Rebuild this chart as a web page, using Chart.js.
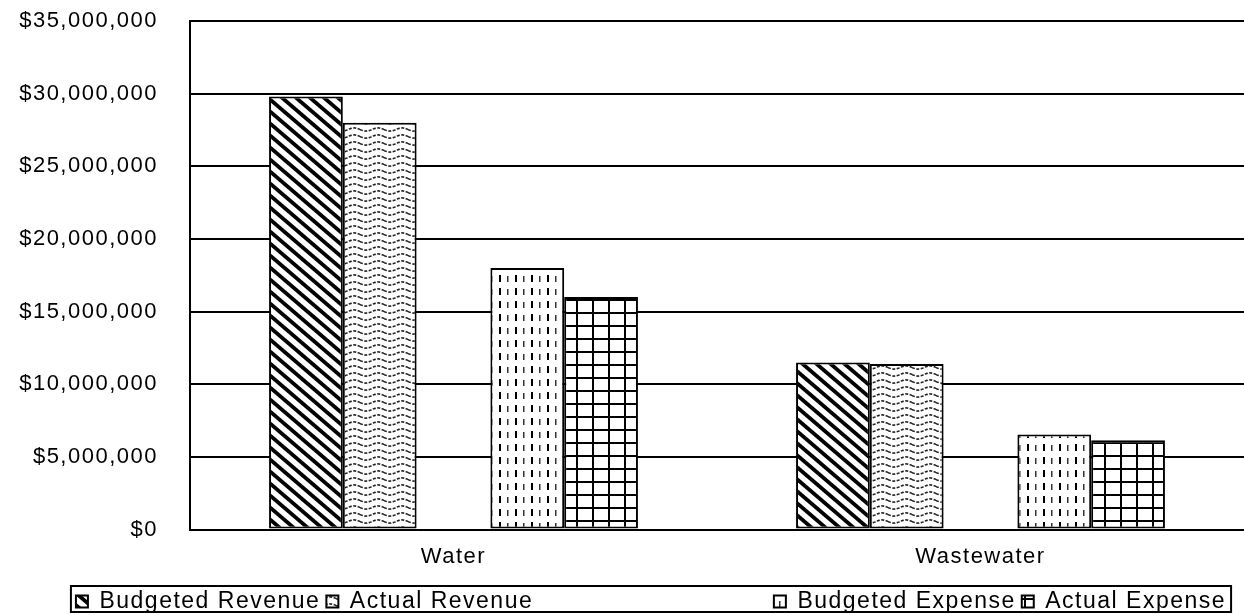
<!DOCTYPE html>
<html>
<head>
<meta charset="utf-8">
<script src="https://cdn.jsdelivr.net/npm/chart.js@4/dist/chart.umd.min.js"></script>
<style>
  html, body { margin: 0; padding: 0; background: #fff; }
  #wrap { width: 1244px; height: 615px; }
</style>
</head>
<body>
<div id="wrap"><canvas id="c" width="1244" height="615"></canvas></div>
<script>
// data
const categories = ['Water', 'Wastewater'];
const budgetedRevenue = [29800000, 11500000];
const actualRevenue = [28000000, 11400000];
const spacer = [null, null];
const budgetedExpense = [18000000, 6550000];
const actualExpense = [16000000, 6150000];
const yMax = 35000000;
const yStep = 5000000;

function makeTile(w, h, draw) {
    var cv = document.createElement('canvas');
    cv.width = w; cv.height = h;
    var g = cv.getContext('2d');
    g.fillStyle = '#fff';
    g.fillRect(0, 0, w, h);
    draw(g, w, h);
    return document.getElementById('c').getContext('2d').createPattern(cv, 'repeat');
}

// black diagonal stripes "\"
var diagPattern = makeTile(14, 12, function (g, w, h) {
    g.strokeStyle = '#000';
    g.lineWidth = 3.8;
    [[0, 0], [0, h], [0, -h]].forEach(function (o) {
        g.beginPath();
        g.moveTo(o[0] - w, o[1] - h);
        g.lineTo(o[0] + 2 * w, o[1] + 2 * h);
        g.stroke();
    });
});

// grey wavy rows
var wavePattern = makeTile(24, 7, function (g, w, h) {
    g.strokeStyle = '#222';
    g.lineWidth = 1.6;
    g.setLineDash([3, 1.5]);
    g.beginPath();
    for (var x = 0; x <= w; x++) {
        var y = 3.5 + 1.6 * Math.sin(x / w * Math.PI * 2);
        if (x === 0) g.moveTo(x, y); else g.lineTo(x, y);
    }
    g.stroke();
});

// vertical dashes
var dashPattern = makeTile(16, 13, function (g, w, h) {
    g.fillStyle = '#000';
    g.fillRect(3, 2, 2, 7);
    g.fillStyle = '#333';
    g.fillRect(11, 3, 1.5, 6);
});

// square grid
var gridPattern = makeTile(16, 13, function (g, w, h) {
    g.fillStyle = '#000';
    g.fillRect(0, 0, 2, h);
    g.fillRect(0, 0, w, 2);
});

function bar(label, values, fill) {
    return {
        label: label,
        data: values,
        backgroundColor: fill,
        borderColor: '#000',
        borderWidth: 2,
        borderSkipped: false
    };
}

var spacing = {
    id: 'spacing',
    beforeLayout: function (chart) { chart.ctx.letterSpacing = '1.5px'; },
    afterLayout: function (chart) {
        // nudge the legend to the right, like the reference
        chart.legend.left += 24;
        chart.legend.right += 24;
    },
    beforeDraw: function (chart) { chart.ctx.letterSpacing = '1.5px'; }
};

var legendBox = {
    id: 'legendBox',
    afterDraw: function (chart) {
        var boxes = chart.legend.legendHitBoxes;
        if (!boxes || !boxes.length) return;
        var l = Infinity, r = -Infinity, t = Infinity, b = -Infinity;
        boxes.forEach(function (h) {
            l = Math.min(l, h.left); r = Math.max(r, h.left + h.width);
            t = Math.min(t, h.top); b = Math.max(b, h.top + h.height);
        });
        var top = t - 4;
        var bottom = Math.min(b + 2, chart.height - 3);
        var ctx = chart.ctx;
        ctx.save();
        ctx.strokeStyle = '#000';
        ctx.lineWidth = 2;
        ctx.strokeRect(l - 5, top, r - l + 10, bottom - top);
        ctx.restore();
    }
};

new Chart(document.getElementById('c').getContext('2d'), {
    type: 'bar',
    data: {
        labels: categories,
        datasets: [
            bar('Budgeted Revenue', budgetedRevenue, diagPattern),
            bar('Actual Revenue', actualRevenue, wavePattern),
            { label: '                          ', data: spacer, backgroundColor: 'rgba(0,0,0,0)', borderColor: 'rgba(0,0,0,0)', borderWidth: 0 },
            bar('Budgeted Expense', budgetedExpense, dashPattern),
            bar('Actual Expense', actualExpense, gridPattern)
        ]
    },
    options: {
        responsive: false,
        animation: false,
        layout: { padding: { left: 10, right: 0, top: 0, bottom: -8 } },
        datasets: { bar: { categoryPercentage: 0.7, barPercentage: 1.0 } },
        scales: {
            x: {
                grid: { display: false, drawTicks: false },
                border: { display: true, color: '#000', width: 2 },
                ticks: { color: '#000', padding: 14, font: { family: 'Liberation Sans', size: 22 } }
            },
            y: {
                min: 0,
                max: yMax,
                afterFit: function (s) { s.width = 180; s.paddingTop = 21; },
                grid: { color: '#000', lineWidth: 2, drawTicks: false },
                border: { display: true, color: '#000', width: 2 },
                ticks: {
                    stepSize: yStep,
                    color: '#000',
                    padding: 32,
                    font: { family: 'Liberation Sans', size: 22 },
                    callback: function (v) { return '$' + v.toLocaleString('en-US'); }
                }
            }
        },
        plugins: {
            tooltip: { enabled: false },
            legend: {
                position: 'bottom',
                labels: {
                    color: '#000',
                    boxWidth: 12,
                    boxHeight: 12,
                    padding: 6,
                    font: { family: 'Liberation Sans', size: 23 }
                }
            }
        }
    },
    plugins: [spacing, legendBox]
});
</script>
</body>
</html>
